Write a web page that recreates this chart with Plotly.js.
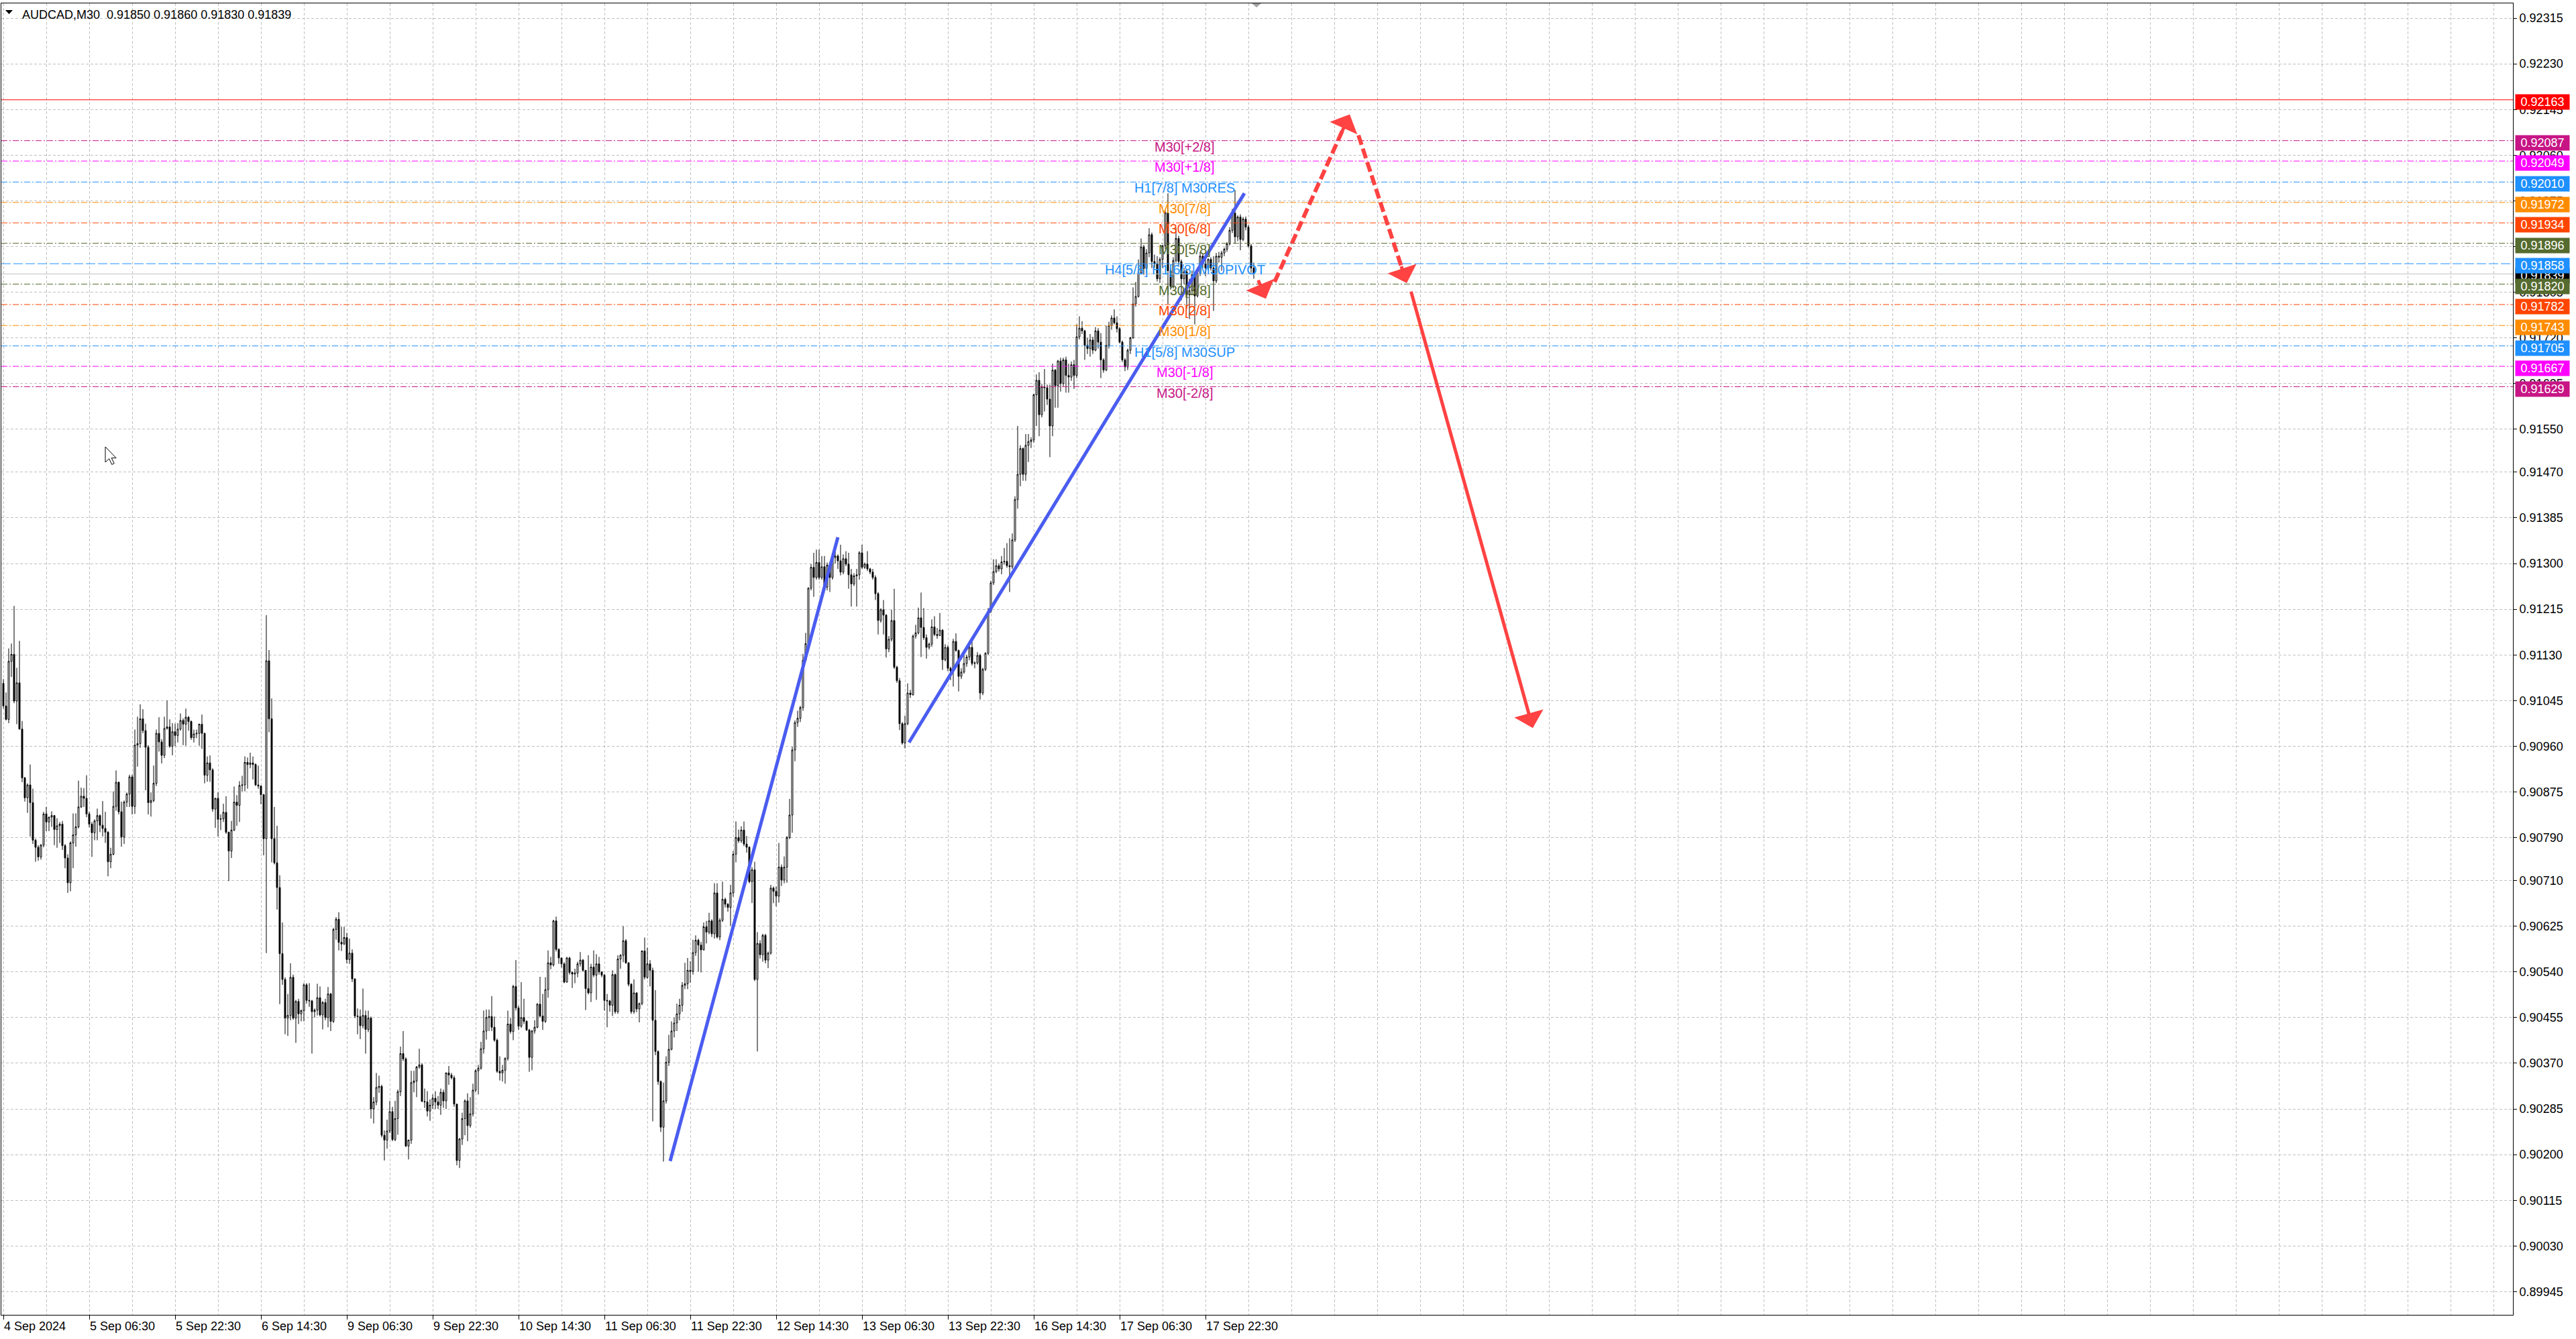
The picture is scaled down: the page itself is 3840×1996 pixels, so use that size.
<!DOCTYPE html>
<html><head><meta charset="utf-8">
<script src="https://cdn.plot.ly/plotly-3.0.1.min.js"></script>
<style>html,body{margin:0;padding:0;background:#fff;overflow:hidden}#chart{width:3840px;height:1996px}</style>
</head><body><div id="chart"></div>
<script>
// AUDCAD M30 candles, values in 1/100000 above 0.90000
const PRICE_BASE = 0.9;
const PIP = 0.00001;
const openPts = [
1077,1035,1010,1118,1131,1044,1078,992,901,864,
888,855,785,772,754,776,834,819,828,831,
805,812,815,775,752,706,780,795,810,847,
867,863,834,815,799,821,831,813,807,800,
745,759,848,893,838,791,856,871,903,848,
962,965,1011,989,958,855,859,891,984,968,
943,993,996,960,987,980,992,1008,1001,1014,
1006,976,983,984,1001,984,906,929,916,843,
863,824,825,837,800,765,804,856,850,887,
888,930,926,929,926,888,886,870,788,1119,
1011,788,743,697,574,526,454,459,530,454,
485,462,468,516,487,486,466,469,492,460,
483,455,499,448,619,638,595,592,604,563,
575,527,458,457,440,459,433,454,285,298,
325,327,236,227,244,280,228,267,317,388,
378,216,227,334,337,363,367,299,298,281,
292,305,298,292,316,300,352,348,343,294,
189,229,267,300,254,276,320,356,361,397,
430,455,457,437,413,355,352,357,379,443,
429,513,473,439,455,448,432,381,430,437,
480,458,448,507,557,553,635,582,566,555,
521,566,539,536,538,555,562,543,509,501,
549,534,555,540,534,487,486,478,535,466,
564,571,598,557,517,466,501,471,481,579,
530,555,543,450,392,336,251,300,372,396,
430,445,462,478,515,518,543,541,576,599,
590,581,624,614,635,611,687,605,636,675,
666,660,687,759,790,784,804,778,772,708,
730,526,593,572,608,562,575,696,690,681,
735,711,735,790,832,953,1004,1012,1032,1120,
1151,1254,1293,1274,1302,1274,1294,1256,1297,1274,
1311,1314,1305,1284,1309,1299,1279,1262,1277,1279,
1320,1293,1299,1290,1284,1274,1244,1194,1214,1204,
1141,1159,1194,1107,1082,1002,966,1002,1059,1056,
1165,1171,1199,1181,1162,1144,1150,1182,1168,1166,
1176,1121,1144,1105,1100,1155,1138,1090,1098,1114,
1126,1144,1114,1115,1129,1059,1103,1133,1211,1264,
1285,1296,1290,1303,1304,1296,1294,1344,1419,1466,
1514,1466,1520,1527,1530,1614,1641,1577,1629,1627,
1606,1556,1660,1631,1677,1635,1679,1650,1647,1670,
1650,1722,1738,1733,1706,1700,1716,1697,1733,1712,
1679,1660,1706,1743,1757,1748,1737,1712,1679,1666,
1697,1720,1783,1797,1841,1889,1849,1878,1912,1862,
1858,1830,1866,1891,1953,1845,1816,1864,1905,1862,
1830,1843,1800,1808,1838,1798,1840,1872,1858,1850,
1866,1850,1826,1872,1870,1878,1885,1895,1920,1952,
1908,1945,1903,1941,1926,1891,1850];
const highPts = [
1085,1060,1142,1151,1221,1106,1156,1007,903,891,
926,881,788,776,778,838,847,829,839,832,
826,819,821,778,759,783,835,835,896,883,
882,906,838,819,824,844,833,858,838,802,
771,876,915,894,857,859,874,907,907,991,
1015,1038,1029,1002,962,874,924,991,1014,973,
1015,1045,1010,1003,1002,1003,1021,1012,1030,1016,
1008,991,991,1002,1019,985,941,943,919,864,
874,833,853,867,801,821,885,869,895,905,
941,939,948,941,928,924,887,871,1204,1139,
1049,847,812,720,632,530,499,556,535,488,
490,470,519,519,519,488,472,518,513,486,
490,512,501,622,642,651,624,624,613,602,
582,528,472,470,509,468,468,457,307,352,
347,330,245,265,300,289,300,321,401,430,
381,228,356,356,365,397,370,323,318,303,
312,318,309,323,321,353,365,352,347,294,
231,278,303,314,307,332,359,367,410,468,
470,470,495,457,416,383,367,381,468,454,
516,562,477,521,490,450,434,432,450,482,
531,499,530,580,568,637,643,584,566,558,
568,568,541,546,559,577,564,543,571,555,
580,573,568,541,536,499,488,543,537,571,
573,625,601,558,519,526,502,483,580,604,
585,562,548,506,394,338,334,383,423,448,
455,481,490,521,557,566,560,600,608,602,
596,632,635,650,638,705,705,640,708,678,
668,702,765,820,805,811,820,793,774,735,
745,614,599,611,611,578,702,699,699,780,
740,755,793,862,959,1008,1026,1035,1132,1171,
1256,1299,1320,1326,1326,1314,1314,1302,1302,1314,
1326,1317,1335,1317,1323,1320,1290,1282,1290,1323,
1335,1302,1323,1292,1290,1278,1247,1217,1232,1206,
1165,1214,1253,1110,1087,1005,1017,1077,1065,1168,
1186,1218,1246,1217,1168,1153,1196,1202,1180,1208,
1178,1150,1148,1108,1160,1170,1140,1105,1129,1130,
1156,1160,1118,1135,1132,1106,1135,1217,1268,1308,
1308,1300,1314,1329,1338,1347,1356,1425,1556,1520,
1516,1541,1541,1535,1616,1652,1656,1634,1662,1633,
1633,1672,1662,1679,1683,1683,1685,1672,1676,1679,
1745,1760,1751,1735,1720,1727,1722,1740,1738,1729,
1682,1743,1750,1762,1773,1760,1740,1715,1682,1700,
1722,1814,1824,1866,1905,1893,1885,1924,1916,1875,
1872,1870,1893,1958,1989,1850,1870,1925,1910,1866,
1850,1848,1830,1845,1842,1845,1880,1876,1866,1868,
1870,1872,1878,1880,1882,1888,1898,1926,1960,1995,
1948,1950,1945,1946,1930,1895,1860];
const lowPts = [
1030,1008,1003,1089,1040,1001,991,893,857,836,
792,778,745,747,749,772,802,802,810,776,
771,780,767,733,687,690,733,773,807,845,
847,828,809,754,785,785,800,792,780,718,
733,757,840,833,773,778,847,847,833,834,
922,957,984,878,833,829,856,886,950,928,
938,991,957,943,960,967,989,962,961,989,
972,967,975,961,955,891,894,894,838,808,
792,804,819,797,709,752,802,812,819,876,
876,881,919,898,886,881,852,757,575,986,
744,740,656,480,516,424,421,450,451,408,
443,448,448,481,475,388,455,459,457,433,
450,437,430,445,600,580,579,590,556,555,
521,454,424,415,435,388,428,267,258,292,
315,232,189,211,240,225,225,237,309,374,
214,191,220,316,307,360,298,287,271,263,
285,285,285,274,287,285,330,340,289,180,
175,218,236,225,250,271,316,312,358,388,
414,430,430,410,352,338,336,332,375,425,
413,468,432,436,443,430,354,357,425,435,
455,432,445,492,545,550,578,555,548,519,
520,535,510,519,530,550,540,469,498,484,
530,488,535,530,468,437,466,458,462,462,
546,558,555,513,462,462,465,446,478,526,
527,513,262,385,330,242,187,295,365,394,
418,430,450,466,508,508,520,535,570,541,
539,580,593,610,605,602,602,599,633,660,
652,626,680,744,780,780,774,762,705,668,
523,392,565,559,556,547,572,668,662,669,
700,705,706,787,799,932,996,1005,1026,1118,
1148,1250,1238,1270,1270,1270,1254,1250,1247,1270,
1300,1290,1278,1280,1295,1253,1220,1258,1220,1270,
1290,1290,1286,1280,1270,1232,1168,1190,1168,1125,
1135,1155,1104,1078,990,963,956,999,1050,1054,
1160,1168,1126,1158,1123,1140,1145,1165,1160,1165,
1102,1118,1100,1083,1071,1136,1062,1085,1095,1108,
1120,1110,1105,1112,1047,1055,1100,1130,1208,1260,
1282,1285,1280,1298,1292,1247,1290,1340,1402,1444,
1454,1454,1489,1515,1525,1556,1537,1572,1583,1595,
1498,1537,1590,1590,1620,1630,1618,1618,1640,1625,
1645,1717,1727,1679,1690,1685,1690,1695,1700,1645,
1655,1658,1700,1735,1745,1730,1710,1675,1658,1660,
1690,1718,1778,1795,1838,1837,1840,1870,1850,1850,
1825,1822,1850,1885,1783,1810,1812,1860,1855,1790,
1820,1774,1755,1800,1745,1795,1835,1850,1835,1845,
1845,1770,1822,1860,1845,1872,1880,1892,1915,1895,
1900,1883,1900,1920,1888,1841,1830];
const closePts = [
1035,1010,1118,1131,1044,1078,992,901,864,888,
855,785,772,754,776,834,819,828,831,805,
812,815,775,752,706,780,795,810,847,867,
863,834,815,799,821,831,813,807,800,745,
759,848,893,838,791,856,871,903,848,962,
965,1011,989,958,855,859,891,984,968,943,
993,996,960,987,980,992,1008,1001,1014,1006,
976,983,984,1001,984,906,929,916,843,863,
824,825,837,800,765,804,856,850,887,888,
930,926,929,926,888,886,870,788,1119,1011,
788,743,697,574,526,454,459,530,454,485,
462,468,516,487,486,466,469,492,460,483,
455,499,448,619,638,595,592,604,563,575,
527,458,457,440,459,433,454,285,298,325,
327,236,227,244,280,228,267,317,388,378,
216,227,334,337,363,367,299,298,281,292,
305,298,292,316,300,352,348,343,294,189,
229,267,300,254,276,320,356,361,397,430,
455,457,437,413,355,352,357,379,443,429,
513,473,439,455,448,432,381,430,437,480,
458,448,507,557,553,635,582,566,555,521,
566,539,536,538,555,562,543,509,501,549,
534,555,540,534,487,486,478,535,466,564,
571,598,557,517,466,501,471,481,579,530,
555,543,450,392,336,251,300,372,396,430,
445,462,478,515,518,543,541,576,599,590,
581,624,614,635,611,687,605,636,675,666,
660,687,759,790,784,804,778,772,708,730,
526,593,572,608,562,575,696,690,681,735,
711,735,790,832,953,1004,1012,1032,1120,1151,
1254,1293,1274,1302,1274,1294,1256,1297,1274,1311,
1314,1305,1284,1309,1299,1279,1262,1277,1279,1320,
1293,1299,1290,1284,1274,1244,1194,1214,1204,1141,
1159,1194,1107,1082,1002,966,1002,1059,1056,1165,
1171,1199,1181,1162,1144,1150,1182,1168,1166,1176,
1121,1144,1105,1100,1155,1138,1090,1098,1114,1126,
1144,1114,1115,1129,1059,1103,1133,1211,1264,1285,
1296,1290,1303,1304,1296,1294,1344,1419,1466,1514,
1466,1520,1527,1530,1614,1641,1577,1629,1627,1606,
1556,1660,1631,1677,1635,1679,1650,1647,1670,1650,
1722,1738,1733,1706,1700,1716,1697,1733,1712,1679,
1660,1706,1743,1757,1748,1737,1712,1679,1666,1697,
1720,1783,1797,1841,1889,1849,1878,1912,1862,1858,
1830,1866,1891,1953,1845,1816,1864,1905,1862,1830,
1843,1800,1808,1838,1798,1840,1872,1858,1850,1866,
1850,1826,1872,1870,1878,1885,1895,1920,1952,1908,
1945,1903,1941,1926,1891,1850,1839];

// time axis labels (bar index where each label sits)
const timeTickBars = [0,32,64,96,128,160,192,224,256,288,320,352,384,416,448];
const timeTickLabels = ['4 Sep 2024','5 Sep 06:30','5 Sep 22:30','6 Sep 14:30','9 Sep 06:30','9 Sep 22:30','10 Sep 14:30','11 Sep 06:30','11 Sep 22:30','12 Sep 14:30','13 Sep 06:30','13 Sep 22:30','16 Sep 14:30','17 Sep 06:30','17 Sep 22:30'];
// price axis labels
const priceTicks = [0.92315,0.92230,0.92145,0.92060,0.91975,0.91890,0.91805,0.91720,0.91635,0.91550,0.91470,0.91385,0.91300,0.91215,0.91130,0.91045,0.90960,0.90875,0.90790,0.90710,0.90625,0.90540,0.90455,0.90370,0.90285,0.90200,0.90115,0.90030,0.89945];

// Murrey math levels
const levelPrices = [0.92087,0.92049,0.92010,0.91972,0.91934,0.91896,0.91858,0.91820,0.91782,0.91743,0.91705,0.91667,0.91629];
const levelNames = ['M30[+2/8]','M30[+1/8]','H1[7/8] M30RES','M30[7/8]','M30[6/8]','M30[5/8]','H4[5/8] H1[6/8] M30PIVOT','M30[3/8]','M30[2/8]','M30[1/8]','H1[5/8] M30SUP','M30[-1/8]','M30[-2/8]'];
const levelColors = ['#C71585','#FF00FF','#1E90FF','#FF8C00','#FF4500','#556B2F','#1E90FF','#556B2F','#FF4500','#FF8C00','#1E90FF','#FF00FF','#C71585'];
const levelIsPivot = [false,false,false,false,false,false,true,false,false,false,false,false,false];
const redLevel = 0.92163;
const symbolName = 'AUDCAD,M30';

// drawn objects: [barFrom, priceFrom, barTo, priceTo]
const blueTrendLines = [[248.5,0.90188,311,0.91349],[337.5,0.90967,462.5,0.91989]];
const redDashedArrows = [[473.75,0.91824,501.75,0.92136],[505,0.92097,523,0.91822]];
const redSolidArrows = [[467.5,0.91829,470.5,0.91793],[524.5,0.91808,570,0.90994]];

const toPrice = v => +(PRICE_BASE + v*PIP).toFixed(5);
const o = openPts.map(toPrice), h = highPts.map(toPrice), l = lowPts.map(toPrice), c = closePts.map(toPrice);
const x = o.map((_, i) => i);

const FONT = 'Liberation Sans, Arial, sans-serif';
const PL = 2, PR = 3746, PT = 5, PB = 1960;
const pxX = v => (v - PL) / (PR - PL);
const pxY = v => (PB - v) / (PB - PT);

const shapes = [];
const annotations = [];

// bid line
const lastI = c.length - 1;
shapes.push({type:'line', xref:'paper', x0:0, x1:1, yref:'y', y0:c[lastI], y1:c[lastI], line:{color:'#C0C0C0', width:1}});
// red level
shapes.push({type:'line', xref:'paper', x0:0, x1:1, yref:'y', y0:redLevel, y1:redLevel, line:{color:'#FF0000', width:1}});
// murrey lines
levelPrices.forEach((p, i) => {
  shapes.push({type:'line', xref:'paper', x0:0, x1:1, yref:'y', y0:p, y1:p,
    line:{color:levelColors[i], width:1, dash: levelIsPivot[i] ? '14px,4px' : '9px,3px,2px,3px'}});
});
// blue trend lines
blueTrendLines.forEach(t => shapes.push({type:'line', xref:'x', yref:'y', x0:t[0], y0:t[1], x1:t[2], y1:t[3], line:{color:'#4A5CF0', width:5}}));
// red dashed arrows
const ARROW_RED = '#FF4242';
redDashedArrows.forEach(t => {
  shapes.push({type:'line', xref:'x', yref:'y', x0:t[0], y0:t[1], x1:t[0]+(t[2]-t[0])*0.92, y1:t[1]+(t[3]-t[1])*0.92, line:{color:ARROW_RED, width:6, dash:'15px,6px'}});
  annotations.push({xref:'x', yref:'y', axref:'x', ayref:'y', x:t[2], y:t[3], ax:t[0]+(t[2]-t[0])*0.88, ay:t[1]+(t[3]-t[1])*0.88,
    showarrow:true, arrowhead:1, arrowsize:1.5, arrowwidth:5, arrowcolor:ARROW_RED, text:'', standoff:0});
});
redSolidArrows.forEach(t => {
  annotations.push({xref:'x', yref:'y', axref:'x', ayref:'y', x:t[2], y:t[3], ax:t[0], ay:t[1],
    showarrow:true, arrowhead:1, arrowsize:1.5, arrowwidth:5, arrowcolor:ARROW_RED, text:'', standoff:0});
});

// level text labels
levelPrices.forEach((p, i) => {
  annotations.push({xref:'paper', x:pxX(1766), xanchor:'center', yref:'y', y:p, yanchor:'top', yshift:3,
    text:levelNames[i], showarrow:false, font:{family:FONT, size:20, color:levelColors[i]}, borderpad:0});
});

// price boxes on the right axis
function priceBox(p, color) {
  annotations.push({xref:'paper', x:1, xanchor:'left', xshift:3, yref:'y', y:p, yanchor:'middle', yshift:-3,
    text:p.toFixed(5), showarrow:false, font:{family:FONT, size:18, color:'#FFFFFF'},
    bgcolor:color, width:78, height:20, borderpad:1, align:'center'});
}
priceBox(c[lastI], '#000000');
priceBox(redLevel, '#FF0000');
levelPrices.forEach((p, i) => priceBox(p, levelColors[i]));

// header
annotations.push({xref:'paper', yref:'paper', x:pxX(31), y:pxY(22), xanchor:'left', yanchor:'middle', showarrow:false,
  text: symbolName + '\u00a0\u00a0' + [o[lastI], h[lastI], l[lastI], c[lastI]].map(v => v.toFixed(5)).join(' '),
  font:{family:FONT, size:18, color:'#000'}});
const tri = (pts) => 'M' + pts.map(p => pxX(p[0]) + ',' + pxY(p[1])).join(' L') + ' Z';
shapes.push({type:'path', xref:'paper', yref:'paper', path:tri([[8,15],[19,15],[13.5,21]]), fillcolor:'#000', line:{width:0}});
// chart shift marker at top
shapes.push({type:'path', xref:'paper', yref:'paper', path:tri([[1866,5],[1880,5],[1873,11]]), fillcolor:'#A0A0A0', line:{width:0}});
// mouse cursor
const cur = [[0,0],[0,20],[5,15.5],[8.5,23],[11.5,21.5],[8,14.5],[14,14.5]].map(p => [157 + p[0]*1.15, 666 + p[1]*1.15]);
shapes.push({type:'path', xref:'paper', yref:'paper', path:tri(cur), fillcolor:'#FFFFFF', line:{color:'#000', width:1}});

const trace = {
  type:'candlestick', x:x, open:o, high:h, low:l, close:c,
  increasing:{line:{color:'#000000', width:1}, fillcolor:'#FFFFFF'},
  decreasing:{line:{color:'#000000', width:1}, fillcolor:'#000000'},
  whiskerwidth:0, hoverinfo:'skip', showlegend:false
};

const gridDash = '4px,3px';
const layout = {
  width:3840, height:1996,
  margin:{l:PL, r:3840-PR, t:PT, b:1996-PB, pad:0},
  paper_bgcolor:'#FFFFFF', plot_bgcolor:'#FFFFFF',
  showlegend:false, hovermode:false, dragmode:false,
  xaxis:{
    range:[(PL-5)/4, (PR-5)/4], type:'linear',
    tickmode:'array', tickvals:timeTickBars, ticktext:timeTickLabels,
    ticks:'outside', ticklen:6, tickcolor:'#000', tickwidth:1,
    ticklabelposition:'outside right',
    tickfont:{family:FONT, size:18, color:'#000'},
    showgrid:true, gridcolor:'#C0C0C0', griddash:gridDash, gridwidth:1,
    minor:{tickmode:'linear', tick0:0, dtick:16, showgrid:true, gridcolor:'#C0C0C0', griddash:gridDash, gridwidth:1, ticks:''},
    showline:true, linecolor:'#000', linewidth:1, mirror:true, zeroline:false,
    rangeslider:{visible:false}, fixedrange:true
  },
  yaxis:{
    side:'right', range:[0.899018, 0.923425],
    tickmode:'array', tickvals:priceTicks, ticktext:priceTicks.map(v => v.toFixed(5)),
    ticks:'outside', ticklen:5, tickcolor:'#000', tickwidth:1,
    tickfont:{family:FONT, size:18, color:'#000'},
    showgrid:true, gridcolor:'#C0C0C0', griddash:gridDash, gridwidth:1,
    showline:true, linecolor:'#000', linewidth:1, mirror:true, zeroline:false, fixedrange:true
  },
  shapes:shapes, annotations:annotations
};

Plotly.newPlot('chart', [trace], layout, {displayModeBar:false, staticPlot:true});
</script>
</body></html>
